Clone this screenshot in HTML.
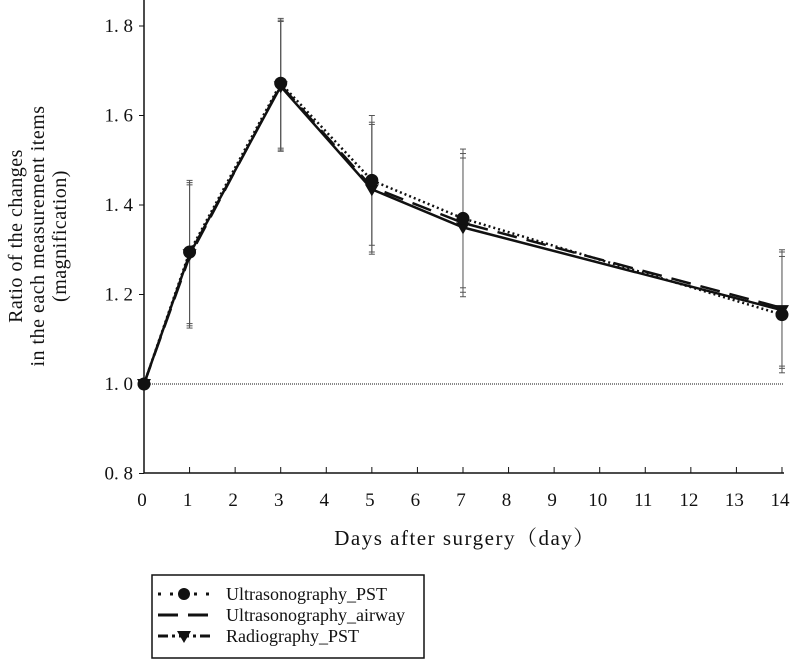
<!DOCTYPE html>
<html><head><meta charset="utf-8"><style>
body{margin:0;background:#fff;}
svg text{font-family:"Liberation Serif","Noto Serif CJK SC",serif;fill:#111;}
</style></head><body>
<svg width="796" height="660" id="c">
<g id="plot"></g>
<g>
<rect x="152" y="575" width="272" height="83" fill="#fff" stroke="#111" stroke-width="1.5"/>
<g>
<line x1="158" y1="594" x2="210" y2="594" stroke="#111" stroke-width="3" stroke-dasharray="3,9"/>
<circle cx="184" cy="594" r="6" fill="#111"/>
<text x="226" y="600" font-size="18">Ultrasonography_PST</text></g>
<g>
<line x1="158" y1="615" x2="210" y2="615" stroke="#111" stroke-width="3" stroke-dasharray="20,10"/>
<text x="226" y="621" font-size="18">Ultrasonography_airway</text></g>
<g>
<line x1="158" y1="636" x2="210" y2="636" stroke="#111" stroke-width="3" stroke-dasharray="10,4,3,4"/>
<path d="M177,631 L191,631 L184,643 Z" fill="#111"/>
<text x="226" y="642" font-size="18">Radiography_PST</text></g>
</g>
</svg>
<script>
const days=[0,1,3,5,7,14];
const usPst=[1.0,1.295,1.672,1.455,1.37,1.155];
const usAirway=[1.0,1.285,1.668,1.44,1.36,1.17];
const radPst=[1.0,1.29,1.665,1.435,1.35,1.165];
const errs=[0,0.16,0.145,0.145,0.155,0.13];
const yTicks=[0.8,1.0,1.2,1.4,1.6,1.8];
const xTicks=[0,1,2,3,4,5,6,7,8,9,10,11,12,13,14];
const NS="http://www.w3.org/2000/svg";
const X=d=>144+d*45.57, Y=v=>384-(v-1)*447.5;
const g=document.getElementById('plot');
function mk(t,a,p){const e=document.createElementNS(NS,t);for(const k in a)e.setAttribute(k,a[k]);(p||g).appendChild(e);return e;}
let e;
e=mk('line',{x1:144,y1:0,x2:144,y2:473,stroke:'#111','stroke-width':1.5});


e=mk('line',{x1:144,y1:473,x2:784,y2:473,stroke:'#111','stroke-width':1.5});


e=mk('line',{x1:144,y1:Y(1),x2:784,y2:Y(1),stroke:'#111','stroke-width':1,'stroke-dasharray':'1,1'});


yTicks.forEach(v=>{mk('line',{x1:139,y1:Y(v),x2:144,y2:Y(v),stroke:'#111'});
 e=mk('text',{x:133,y:Y(v)+6,'text-anchor':'end','font-size':19});e.textContent=v.toFixed(1).replace('.','. ');
 
 });
xTicks.forEach(d=>{if(d>0)mk('line',{x1:X(d),y1:467,x2:X(d),y2:473,stroke:'#111'});
 e=mk('text',{x:X(d)-2,y:506,'text-anchor':'middle','font-size':19});e.textContent=d;
 
 });
e=mk('text',{x:465,y:545,'text-anchor':'middle','font-size':21,'letter-spacing':'1.5'});e.textContent='Days after surgery（day）';


const yt=mk('text',{transform:'translate(22,236) rotate(-90)','text-anchor':'middle','font-size':20,'letter-spacing':'0.5'});


['Ratio of the changes','in the each measurement items','(magnification)'].forEach((s,i)=>{const t=mk('tspan',{x:0,dy:i?22:0},yt);t.textContent=s;});
[usPst,usAirway,radPst].forEach((ser,si)=>days.forEach((d,i)=>{if(!errs[i])return;const x=X(d);
 const hi=Y(ser[i]+errs[i]),lo=Y(ser[i]-errs[i]);
 e=mk('line',{x1:x,y1:hi,x2:x,y2:lo,stroke:'#555','stroke-width':1});
 
 
 mk('line',{x1:x-3,y1:hi,x2:x+3,y2:hi,stroke:'#555'});mk('line',{x1:x-3,y1:lo,x2:x+3,y2:lo,stroke:'#555'});}));
function pts(s){return days.map((d,i)=>X(d)+','+Y(s[i])).join(' ');}
e=mk('polyline',{points:pts(radPst),fill:'none',stroke:'#111','stroke-width':2.5});


e=mk('polyline',{points:pts(usAirway),fill:'none',stroke:'#111','stroke-width':2.5,'stroke-dasharray':'20,10'});


e=mk('polyline',{points:pts(usPst),fill:'none',stroke:'#111','stroke-width':2.5,'stroke-dasharray':'2,3'});


days.forEach((d,i)=>{const x=X(d),y=Y(radPst[i]);
 e=mk('path',{d:`M${x-7},${y-5} L${x+7},${y-5} L${x},${y+7} Z`,fill:'#111'});
 
 });
days.forEach((d,i)=>{e=mk('circle',{cx:X(d),cy:Y(usPst[i]),r:6.5,fill:'#111'});
 
 });
</script>
</body></html>
